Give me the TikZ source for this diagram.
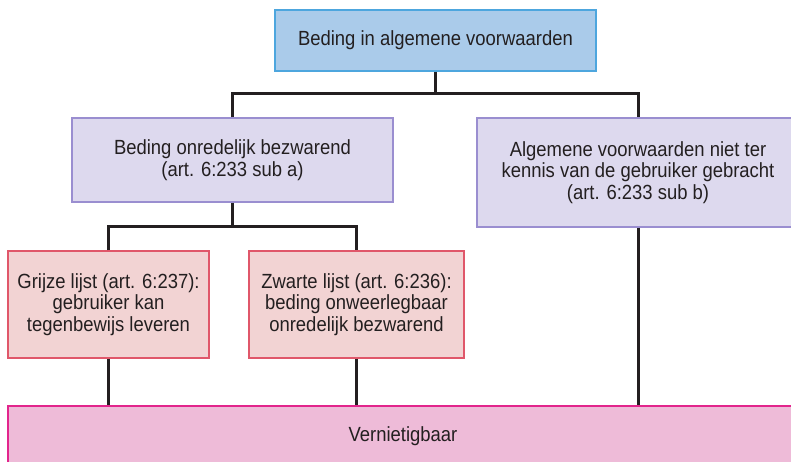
\documentclass[tikz,border=0pt]{standalone}
\usepackage{fontspec}
\setmainfont{Liberation Sans}[FakeStretch=0.9]
\definecolor{txt}{HTML}{231F20}
\definecolor{blueF}{HTML}{AACBEA}
\definecolor{blueD}{HTML}{4DA6DE}
\definecolor{lavF}{HTML}{DDD9EE}
\definecolor{lavD}{HTML}{9A8ED0}
\definecolor{roseF}{HTML}{F2D3D3}
\definecolor{roseD}{HTML}{E0576A}
\definecolor{pinkF}{HTML}{EEBBD8}
\definecolor{pinkD}{HTML}{E2258C}
\tikzset{
  box/.style={draw, line width=1.3pt, inner sep=0pt, align=center, text=txt,
    font=\fontsize{20.5}{21.7}\selectfont, anchor=center},
  bluebox/.style={box, fill=blueF, draw=blueD},
  lavbox/.style={box, fill=lavF, draw=lavD},
  rosebox/.style={box, fill=roseF, draw=roseD},
  pinkbox/.style={box, fill=pinkF, draw=pinkD},
  conn/.style={draw=txt, line width=3pt, line join=miter}
}
\begin{document}
\begin{tikzpicture}[x=1pt,y=-1pt]
\useasboundingbox (0,0) rectangle (791,462);
\clip (0,0) rectangle (791,462);
\fill[white] (0,0) rectangle (791,462);
\coordinate (bus1) at (0,94);
\coordinate (bus2) at (0,226);
\node[bluebox, minimum width=321pt, minimum height=61pt] (top) at (435.5,40.5) {Beding in algemene voorwaarden};
\node[lavbox, minimum width=321pt, minimum height=84pt] (midl) at (232.5,160) {Beding onredelijk bezwarend\\(art. 6:233 sub a)};
\node[lavbox, minimum width=322pt, minimum height=109pt] (midr) at (638,172.5) {Algemene voorwaarden niet ter\\kennis van de gebruiker gebracht\\(art. 6:233 sub b)};
\node[rosebox, minimum width=201pt, minimum height=107pt] (grijs) at (108.5,304.5) {Grijze lijst (art. 6:237):\\gebruiker kan\\tegenbewijs leveren};
\node[rosebox, minimum width=215pt, minimum height=107pt] (zwart) at (356.5,304.5) {Zwarte lijst (art. 6:236):\\beding onweerlegbaar\\onredelijk bezwarend};
\node[pinkbox, minimum width=790pt, minimum height=60pt] (bottom) at (403,436) {Vernietigbaar};
\draw[conn] (top.south) -- (top.south |- bus1);
\draw[conn] (midl.north) -- (midl.north |- bus1) -- (midr.north |- bus1) -- (midr.north);
\draw[conn] (midl.south) -- (midl.south |- bus2);
\draw[conn] (grijs.north) -- (grijs.north |- bus2) -- (zwart.north |- bus2) -- (zwart.north);
\draw[conn] (grijs.south) -- (grijs.south |- bottom.north);
\draw[conn] (zwart.south) -- (zwart.south |- bottom.north);
\draw[conn] (midr.south) -- (midr.south |- bottom.north);
\end{tikzpicture}
\end{document}
